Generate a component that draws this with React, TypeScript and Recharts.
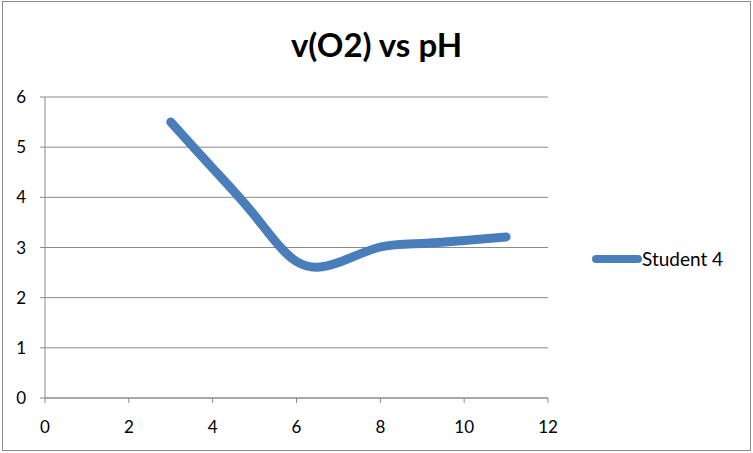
import React from 'react';
import { LineChart, Line, XAxis, YAxis, CartesianGrid } from 'recharts';

const phValues = [3, 4, 5, 6, 7, 8, 9, 10, 11];
const student4 = [5.5, 4.58, 3.64, 2.72, 2.7, 3.01, 3.08, 3.14, 3.21];
const xTicks = [0, 2, 4, 6, 8, 10, 12];
const yTicks = [0, 1, 2, 3, 4, 5, 6];

const chartData = phValues.map((ph, i) => ({ ph, student4: student4[i] }));

const FONT = 'Lato, "Open Sans", sans-serif';
const LINE = '#4a7ebb';
const GRID = '#8a8a8a';

const LegendItem = () => (
  <div
    style={{
      position: 'absolute',
      left: 590,
      top: 247,
      display: 'flex',
      alignItems: 'center',
      fontFamily: FONT,
      fontSize: 19,
      color: '#000',
    }}
  >
    <svg width={52} height={10}>
      <line x1={6} y1={5} x2={48} y2={5} stroke={LINE} strokeWidth={8} strokeLinecap="round" />
    </svg>
    <span>Student 4</span>
  </div>
);

const App: React.FC = () => {
  return (
    <div style={{ position: 'absolute', left: 0, top: 0, width: 753, height: 453, background: '#fff' }}>
      <div
        style={{
          position: 'absolute',
          left: 2,
          top: 1,
          width: 747,
          height: 448,
          border: '1px solid #8c8c8c',
        }}
      />
      <div
        style={{
          position: 'absolute',
          left: 0,
          top: 24,
          width: 753,
          textAlign: 'center',
          fontFamily: FONT,
          fontWeight: 700,
          fontSize: 33,
          color: '#000',
        }}
      >
        v(O2) vs pH
      </div>
      <LineChart
        width={753}
        height={453}
        data={chartData}
        margin={{ top: 97, right: 205, bottom: 20, left: 0 }}
        style={{ position: 'absolute', left: 0, top: 0 }}
      >
        <CartesianGrid stroke={GRID} vertical={false} />
        <XAxis
          dataKey="ph"
          type="number"
          domain={[0, 12]}
          ticks={xTicks}
          height={35}
          stroke={GRID}
          tickSize={5}
          tickMargin={18}
          tick={{ fill: '#000', fontSize: 17, fontFamily: FONT }}
        />
        <YAxis
          type="number"
          domain={[0, 6]}
          ticks={yTicks}
          width={45}
          stroke={GRID}
          tickSize={5}
          tickMargin={14}
          tick={{ fill: '#000', fontSize: 17, fontFamily: FONT }}
        />
        <Line
          type="natural"
          dataKey="student4"
          name="Student 4"
          stroke={LINE}
          strokeWidth={9}
          strokeLinecap="round"
          strokeLinejoin="round"
          dot={false}
          activeDot={false}
          isAnimationActive={false}
        />
      </LineChart>
      <LegendItem />
    </div>
  );
};

export default App;
